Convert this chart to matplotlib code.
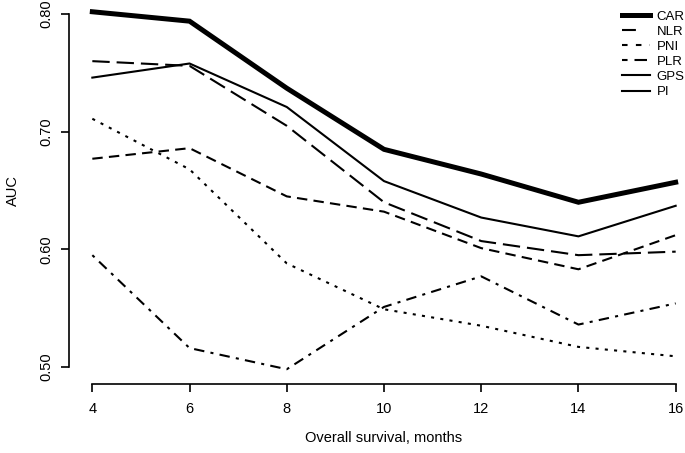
import matplotlib
matplotlib.use("Agg")
import matplotlib.pyplot as plt
from matplotlib.lines import Line2D

plt.rcParams["font.family"] = ["Liberation Sans", "DejaVu Sans"]
plt.rcParams["lines.scale_dashes"] = False

months = [4, 6, 8, 10, 12, 14, 16]
car = [0.802, 0.794, 0.737, 0.685, 0.664, 0.640, 0.657]
nlr = [0.760, 0.756, 0.705, 0.640, 0.607, 0.595, 0.598]
pni = [0.711, 0.668, 0.588, 0.549, 0.535, 0.517, 0.509]
plr = [0.677, 0.686, 0.645, 0.632, 0.601, 0.583, 0.612]
gps = [0.746, 0.758, 0.721, 0.658, 0.627, 0.611, 0.637]
pi = [0.595, 0.516, 0.498, 0.551, 0.577, 0.536, 0.554]

labels = ["CAR", "NLR", "PNI", "PLR", "GPS", "PI"]
yticks = [0.50, 0.60, 0.70, 0.80]

# dash patterns (points), roughly like R's lty values
ls_long = (0, (12.5, 5))
ls_dot = (0, (2.2, 4.5))
ls_dash = (0, (7.5, 4.5))
ls_dotdash = (0, (2.2, 4.5, 7.5, 4.5))

fig = plt.figure(figsize=(6.85, 4.53), dpi=100)
ax = fig.add_axes([69 / 685, 1 - 381 / 453, 630 / 685, 381 / 453])

lw = 1.5
ax.plot(months, car, color="black", lw=3.6, solid_joinstyle="miter")
ax.plot(months, nlr, color="black", lw=lw, linestyle=ls_long)
ax.plot(months, pni, color="black", lw=lw, linestyle=ls_dot)
ax.plot(months, plr, color="black", lw=lw, linestyle=ls_dash)
ax.plot(months, gps, color="black", lw=lw)
ax.plot(months, pi, color="black", lw=lw, linestyle=ls_dotdash)

ax.set_xlim(4 - 0.48, 16 + 0.48)
ax.set_ylim(0.5 - 0.012, 0.8 + 0.012)

ax.spines["top"].set_visible(False)
ax.spines["right"].set_visible(False)
ax.spines["left"].set_bounds(0.5, 0.8)
ax.spines["bottom"].set_bounds(4, 16)
ax.spines["bottom"].set_position(("outward", 2))
for s in ["left", "bottom"]:
    ax.spines[s].set_linewidth(1.2)

ax.set_xticks(months)
ax.set_xticklabels([str(m) for m in months])
ax.set_yticks(yticks)
ax.set_yticklabels(["%.2f" % v for v in yticks], rotation=90, va="center")
ax.tick_params(length=6, width=1.2, labelsize=10.5)
ax.tick_params(axis="x", pad=7)
ax.tick_params(axis="y", pad=5)

ax.set_xlabel("Overall survival, months", fontsize=10.5, labelpad=11)
ax.set_ylabel("AUC", fontsize=10.5, labelpad=14)

# legend drawn like the original (PI sample shows solid)
handles = [
    Line2D([], [], color="black", lw=3.6),
    Line2D([], [], color="black", lw=lw, linestyle=(0, (10, 20))),
    Line2D([], [], color="black", lw=lw, linestyle=(0, (4, 6))),
    Line2D([], [], color="black", lw=lw, linestyle=(0, (4, 5, 9, 5))),
    Line2D([], [], color="black", lw=lw),
    Line2D([], [], color="black", lw=lw),
]
fig.legend(handles, labels, loc="upper left", bbox_to_anchor=(617 / 685, 1 - 5 / 453),
           frameon=False, fontsize=9.5, handlelength=2.1, handletextpad=0.5,
           labelspacing=0.22, borderaxespad=0)

fig.savefig("out.png", dpi=100)
